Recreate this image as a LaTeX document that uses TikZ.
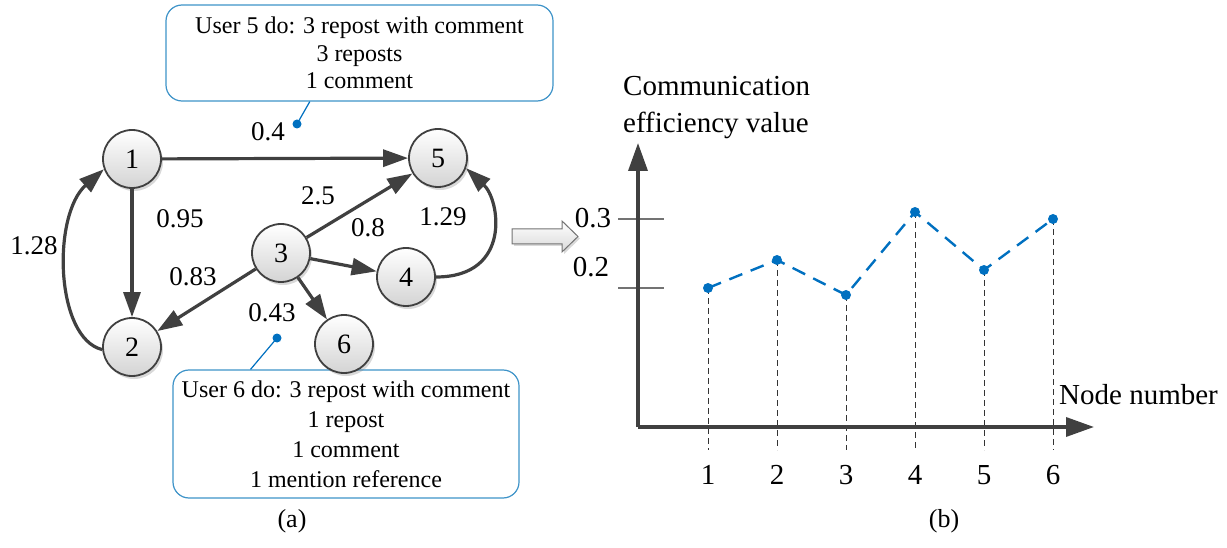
\documentclass[tikz,border=0pt]{standalone}
\usepackage{fontspec}
\setmainfont{Liberation Serif}
\usetikzlibrary{arrows.meta,shadows,calc}
\definecolor{edgegray}{HTML}{404040}
\definecolor{dotblue}{HTML}{0070C0}
\definecolor{boxblue}{HTML}{3E93C8}
\begin{document}
\begin{tikzpicture}[x=1pt,y=-1pt,
  vert/.style={circle, draw=edgegray, line width=1.8pt, minimum size=58pt, inner sep=0pt,
    top color=white, bottom color=black!17,
    drop shadow={shadow xshift=2pt,shadow yshift=-3pt,opacity=0.3},
    font=\rmfamily\fontsize{28}{30}\selectfont},
  edge/.style={draw=edgegray, line width=3.2pt, -{Triangle[length=25pt,width=17pt]}},
  wlabel/.style={font=\rmfamily\fontsize{27}{30}\selectfont, inner sep=0pt},
  callbox/.style={draw=boxblue, line width=1.2pt, rounded corners=16pt, align=center, inner sep=0pt},
  pin/.style={draw=dotblue, line width=1.2pt},
  bluedot/.style={circle, fill=dotblue, minimum size=9pt, inner sep=0pt},
  axis/.style={draw=edgegray, line width=3.5pt, -{Triangle[length=28pt,width=19pt]}},
  tick/.style={draw=black!55, line width=1.3pt},
  drop/.style={draw=black!80, line width=0.8pt, dash pattern=on 6pt off 4pt},
  series/.style={draw=dotblue, line width=2.4pt, dash pattern=on 14pt off 9pt},
  ctext/.style={font=\rmfamily\fontsize{29}{37}\selectfont, inner sep=0pt},
]
\useasboundingbox (0,0) rectangle (1227,548);

% callout boxes
\node[callbox, minimum width=387pt, minimum height=96pt, font=\rmfamily\fontsize{24}{27.5}\selectfont]
  (box5) at (359.5,53) {User 5 do: 3 repost with comment\\3 reposts\\1 comment};
\node[callbox, minimum width=346pt, minimum height=128pt, font=\rmfamily\fontsize{24}{30}\selectfont]
  (box6) at (346,434) {User 6 do: 3 repost with comment\\1 repost\\1 comment\\1 mention reference};

% vertices
\node[vert] (n1) at (132,159) {1};
\node[vert] (n5) at (438,158) {5};
\node[vert] (n3) at (281,253) {3};
\node[vert] (n4) at (406,277) {4};
\node[vert] (n2) at (132,347) {2};
\node[vert] (n6) at (344,344) {6};

% edges
\draw[edge] (n1) -- (n5);
\draw[edge] (n1) -- (n2);
\draw[edge] (n3) -- (n5);
\draw[edge] (n3) -- (n4);
\draw[edge] (n3) -- (n2);
\draw[edge] (n3) -- (n6);
\draw[edge] (n2.185) .. controls (55,338) and (52,215) .. (n1.200);
\draw[edge] (n4.east) .. controls (512,277) and (500,200) .. (n5.-20);

% weights
\node[wlabel] (w15) at (268,132) {0.4};
\node[wlabel] (w12) at (180,219) {0.95};
\node[wlabel] (w21) at (34,246) {1.28};
\node[wlabel] (w35) at (318,196) {2.5};
\node[wlabel] (w34) at (368,228) {0.8};
\node[wlabel] (w45) at (443,217) {1.29};
\node[wlabel] (w32) at (193,277) {0.83};
\node[wlabel] (w36) at (272,313) {0.43};

% callout pins
\node[bluedot] (d5) at (297,124) {};
\node[bluedot] (d6) at (277,338) {};
\draw[pin] (d5.center) -- ($(box5.south west)!0.372!(box5.south east)$);
\draw[pin] (d6.center) -- ($(box6.north west)!0.225!(box6.north east)$);

% hollow arrow
\draw[draw=black!55, line width=1pt, top color=white, bottom color=black!15,
  drop shadow={shadow xshift=2pt,shadow yshift=-2pt,opacity=0.3}]
  (512,229) -- (562,229) -- (562,221) -- (578,236.5) -- (562,252) -- (562,244) -- (512,244) -- cycle;

% chart
\coordinate (O) at (638,427);
\coordinate (Xend) at (1094,427);
\coordinate (Yend) at (638,143);
\foreach \i/\x/\y in {1/708/288, 2/777/260, 3/846/295, 4/915/212, 5/984/270, 6/1053/219}{
  \coordinate (p\i) at (\x,\y);
  \coordinate (b\i) at (\x,450);
  \draw[drop] (p\i) -- (b\i);
  \node[ctext] (t\i) at (\x,475) {\i};
}
\draw[tick] (618,219) -- (664,219);
\draw[tick] (618,288) -- (664,288);
\draw[axis] (O) -- (Xend);
\draw[axis] (O) -- (Yend);
\node[ctext] (l3) at (593,218) {0.3};
\node[ctext] (l2) at (591,267) {0.2};
\draw[series] (p1) -- (p2) -- (p3) -- (p4) -- (p5) -- (p6);
\foreach \i in {1,...,6}{ \node[bluedot, minimum size=10pt] (q\i) at (p\i) {}; }
\node[ctext, anchor=west, align=left] (ylab) at (623,108) {Communication\\efficiency value};
\node[ctext, anchor=west] (xlab) at (1059,395) {Node number};

% captions
\node[font=\rmfamily\fontsize{26}{30}\selectfont] (capa) at (292,521) {(a)};
\node[font=\rmfamily\fontsize{26}{30}\selectfont] (capb) at (944,521) {(b)};
\end{tikzpicture}
\end{document}
